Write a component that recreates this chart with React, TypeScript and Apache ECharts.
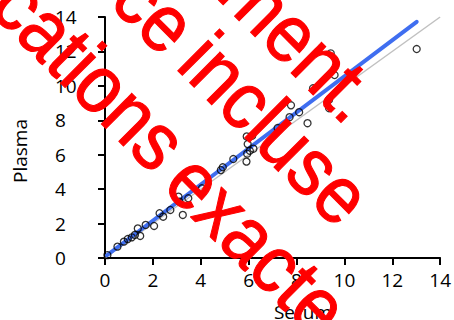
import React, { useEffect, useRef } from "react";
import * as echarts from "echarts";

const serum = [0.1, 0.52, 0.79, 0.95, 1.12, 1.25, 1.37, 1.47, 1.7, 2.05, 2.28, 2.43, 2.73, 3.07, 3.11, 3.25, 3.48, 4.05, 4.84, 4.92, 5.36, 5.91, 5.94, 6.05, 6.2, 5.96, 5.92, 6.15, 7.21, 7.71, 7.77, 8.11, 8.46, 8.69, 9.36, 9.36, 9.59, 9.43, 13.02];
const plasma = [0.17, 0.66, 0.95, 1.1, 1.2, 1.34, 1.72, 1.28, 1.92, 1.86, 2.6, 2.4, 2.79, 3.56, 3.27, 2.5, 3.47, 4.05, 5.11, 5.27, 5.75, 5.6, 6.06, 6.23, 6.35, 6.62, 7.06, 7.1, 7.55, 8.18, 8.87, 8.47, 7.83, 9.86, 9.2, 8.7, 10.63, 11.89, 12.14];
const identityX = [0, 14];
const identityY = [0, 14];
const fitX = [0.08, 13.02];
const fitY = [0.16, 13.72];
const xTitle = "Serum";
const yTitle = "Plasma";
const watermarkWords = ["cations", "exacte", "ce", "incluse", "ment."];

export default function App() {
  const ref = useRef<HTMLDivElement>(null);
  useEffect(() => {
    const chart = echarts.init(ref.current!, null, { renderer: "svg" });
    const font = "Open Sans";
    const wmFont = "74px 'Liberation Sans'";
    const rot = -Math.PI / 4;
    const wmPos = [
      [90, 72.6],
      [257.7, 244.3],
      [155, 11],
      [275.7, 128.8],
      [300.3, 41.9],
    ];
    chart.setOption({
      animation: false,
      grid: { left: 105, right: 7, top: 17, bottom: 62, containLabel: false },
      xAxis: {
        type: "value",
        min: 0,
        max: 14,
        interval: 2,
        splitLine: { show: false },
        axisLine: { show: true, onZero: false, lineStyle: { color: "#000", width: 2 } },
        axisTick: { show: true, inside: false, length: 7, lineStyle: { color: "#000", width: 2 } },
        axisLabel: { color: "#000", fontFamily: font, fontSize: 19, margin: 12 },
      },
      yAxis: {
        type: "value",
        min: 0,
        max: 14,
        interval: 2,
        splitLine: { show: false },
        axisLine: { show: true, onZero: false, lineStyle: { color: "#000", width: 2 } },
        axisTick: { show: true, inside: false, length: 7, lineStyle: { color: "#000", width: 2 } },
        axisLabel: { color: "#000", fontFamily: font, fontSize: 19, margin: 50, align: "left" },
      },
      series: [
        {
          type: "line",
          data: identityX.map((x, i) => [x, identityY[i]]),
          symbol: "none",
          lineStyle: { color: "#c0c0c0", width: 1.5 },
          z: 1,
        },
        {
          type: "line",
          data: fitX.map((x, i) => [x, fitY[i]]),
          symbol: "none",
          lineStyle: { color: "#3f6ef0", width: 4, cap: "round" },
          z: 2,
        },
        {
          type: "scatter",
          data: serum.map((x, i) => [x, plasma[i]]),
          symbol: "circle",
          symbolSize: 7,
          itemStyle: { color: "rgba(0,0,0,0)", borderColor: "#000", borderWidth: 1.3 },
          z: 3,
        },
      ],
      graphic: [
        {
          type: "text",
          x: 303,
          y: 302,
          z: 50,
          style: { text: xTitle, font: `19px '${font}'`, fill: "#000", textAlign: "center", textVerticalAlign: "top" },
        },
        {
          type: "text",
          x: 20,
          y: 151,
          rotation: Math.PI / 2,
          z: 50,
          style: { text: yTitle, font: `19px '${font}'`, fill: "#000", textAlign: "center", textVerticalAlign: "middle" },
        },
        ...watermarkWords.map((t, i) => ({
          type: "text",
          x: wmPos[i][0],
          y: wmPos[i][1],
          rotation: rot,
          scaleY: 1.1,
          z: 100,
          style: {
            text: t,
            font: wmFont,
            fill: "#ff0000",
            stroke: "#ff0000",
            lineWidth: 1,
            textAlign: "center",
            textVerticalAlign: "middle",
          },
        })),
      ],
    });
    return () => chart.dispose();
  }, []);
  return <div ref={ref} style={{ width: 454, height: 320, position: "absolute", left: 0, top: 0 }} />;
}
